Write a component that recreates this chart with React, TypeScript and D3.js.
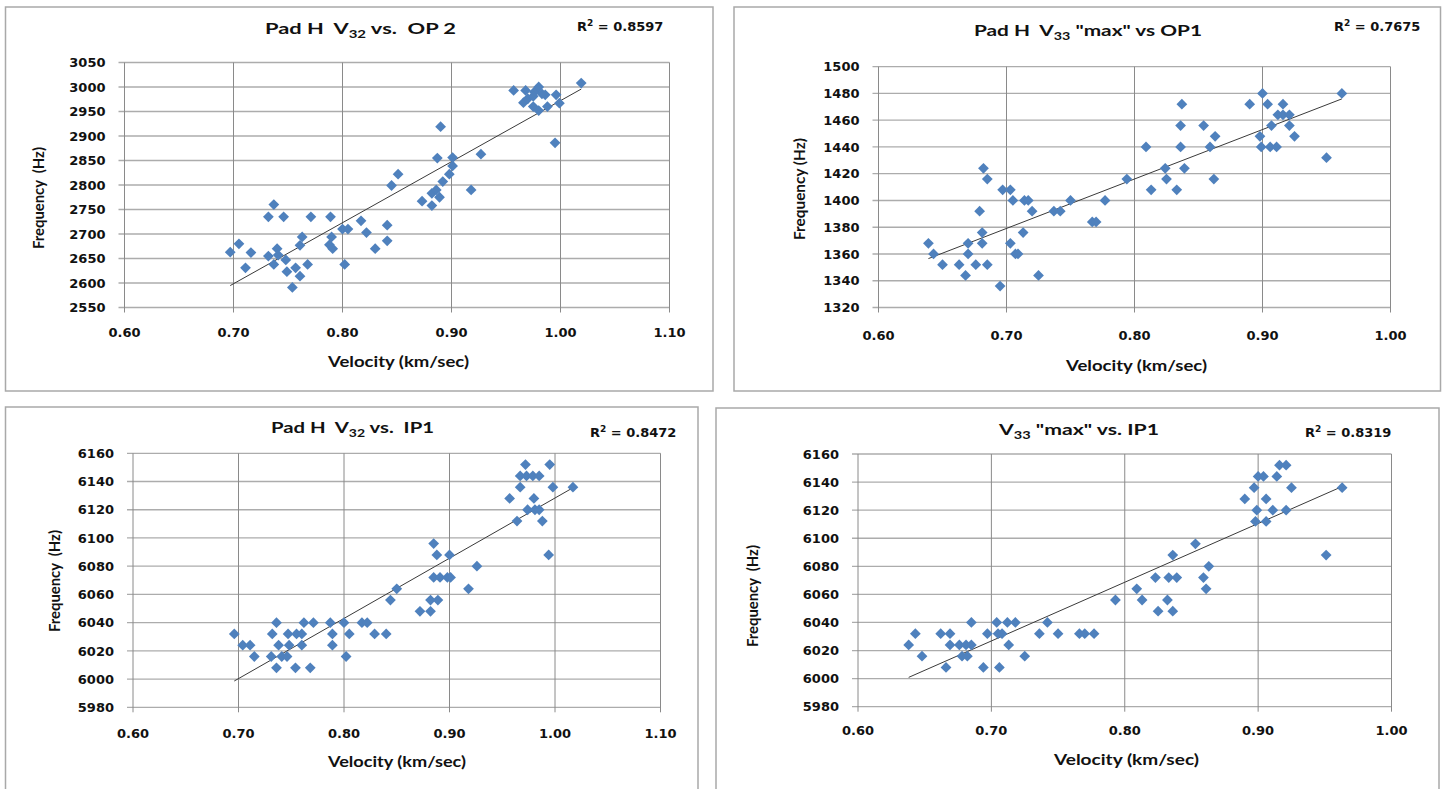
import * as d3 from "d3";

// Pad H V32 vs. OP 2
const op2Velocity = [
  0.697, 0.705, 0.711, 0.716, 0.732, 0.737, 0.732, 0.74, 0.737, 0.741, 0.746, 0.748, 0.749, 0.757, 0.754, 0.761,
  0.763, 0.761, 0.768, 0.771, 0.789, 0.79, 0.788, 0.791, 0.8, 0.805, 0.802, 0.817, 0.822, 0.83, 0.841, 0.841,
  0.845, 0.851, 0.873, 0.882, 0.882, 0.886, 0.887, 0.89, 0.889, 0.892, 0.898, 0.901, 0.901, 0.918, 0.927, 0.957,
  0.968, 0.976, 0.98, 0.966, 0.97, 0.975, 0.975, 0.98, 0.986, 0.983, 0.988, 0.996, 0.999, 0.995, 1.019,
];
const op2Frequency = [
  2663, 2680, 2631, 2662, 2735, 2760, 2655, 2670, 2638, 2657, 2735, 2647, 2623, 2631, 2591, 2614,
  2694, 2677, 2638, 2735, 2735, 2694, 2678, 2670, 2710, 2710, 2638, 2727, 2703, 2670, 2718, 2686,
  2799, 2822, 2767, 2758, 2783, 2790, 2855, 2919, 2775, 2807, 2822, 2839, 2856, 2790, 2863, 2993,
  2993, 2990, 3000, 2968, 2976, 2981, 2960, 2952, 2984, 2986, 2960, 2984, 2967, 2886, 3008,
];

// Pad H V33 "max" vs OP1
const op1Velocity = [
  0.639, 0.643, 0.65, 0.663, 0.668, 0.67, 0.67, 0.676, 0.679, 0.681, 0.681, 0.682, 0.685, 0.685, 0.695, 0.697,
  0.703, 0.703, 0.705, 0.707, 0.709, 0.713, 0.714, 0.717, 0.72, 0.725, 0.737, 0.742, 0.75, 0.767, 0.77, 0.777,
  0.794, 0.809, 0.813, 0.824, 0.825, 0.833, 0.836, 0.836, 0.837, 0.839, 0.854, 0.859, 0.862, 0.863, 0.89, 0.898,
  0.899, 0.9, 0.904, 0.906, 0.907, 0.911, 0.912, 0.916, 0.916, 0.921, 0.921, 0.925, 0.95, 0.962,
];
const op1Frequency = [
  1368, 1360, 1352, 1352, 1344, 1360, 1368, 1352, 1392, 1376, 1368, 1424, 1416, 1352, 1336, 1408,
  1408, 1368, 1400, 1360, 1360, 1376, 1400, 1400, 1392, 1344, 1392, 1392, 1400, 1384, 1384, 1400,
  1416, 1440, 1408, 1424, 1416, 1408, 1440, 1456, 1472, 1424, 1456, 1440, 1416, 1448, 1472, 1448,
  1440, 1480, 1472, 1440, 1456, 1440, 1464, 1472, 1464, 1464, 1456, 1448, 1432, 1480,
];

// Pad H V32 vs. IP1
const ip1V32Velocity = [
  0.696, 0.704, 0.711, 0.715, 0.732, 0.731, 0.736, 0.738, 0.736, 0.741, 0.746, 0.747, 0.748, 0.755, 0.754, 0.76,
  0.76, 0.762, 0.768, 0.771, 0.787, 0.789, 0.789, 0.8, 0.802, 0.805, 0.817, 0.822, 0.829, 0.84, 0.844, 0.85,
  0.872, 0.882, 0.882, 0.885, 0.885, 0.888, 0.889, 0.891, 0.898, 0.901, 0.9, 0.918, 0.926, 0.957, 0.964, 0.967,
  0.967, 0.972, 0.973, 0.974, 0.979, 0.98, 0.981, 0.985, 0.985, 0.988, 0.994, 0.995, 0.998, 1.017,
];
const ip1V32Frequency = [
  6032, 6024, 6024, 6016, 6032, 6016, 6040, 6024, 6008, 6016, 6016, 6032, 6024, 6032, 6008, 6032,
  6024, 6040, 6008, 6040, 6040, 6032, 6024, 6040, 6016, 6032, 6040, 6040, 6032, 6032, 6056, 6064,
  6048, 6048, 6056, 6096, 6072, 6088, 6056, 6072, 6072, 6072, 6088, 6064, 6080, 6128, 6112, 6136,
  6144, 6152, 6144, 6120, 6144, 6128, 6120, 6144, 6120, 6112, 6088, 6152, 6136, 6136,
];

// V33 "max" vs. IP1
const ip1V33Velocity = [
  0.638, 0.643, 0.648, 0.662, 0.666, 0.669, 0.669, 0.676, 0.678, 0.681, 0.682, 0.685, 0.685, 0.694, 0.697, 0.704,
  0.705, 0.706, 0.708, 0.712, 0.713, 0.718, 0.725, 0.736, 0.742, 0.75, 0.766, 0.77, 0.777, 0.793, 0.809, 0.813,
  0.823, 0.825, 0.832, 0.833, 0.836, 0.836, 0.839, 0.853, 0.859, 0.861, 0.863, 0.89, 0.897, 0.899, 0.898, 0.9,
  0.904, 0.906, 0.906, 0.911, 0.914, 0.916, 0.921, 0.921, 0.925, 0.951, 0.963,
];
const ip1V33Frequency = [
  6024, 6032, 6016, 6032, 6008, 6032, 6024, 6024, 6016, 6024, 6016, 6024, 6040, 6008, 6032, 6040,
  6032, 6008, 6032, 6040, 6024, 6040, 6016, 6032, 6040, 6032, 6032, 6032, 6032, 6056, 6064, 6056,
  6072, 6048, 6056, 6072, 6088, 6048, 6072, 6096, 6072, 6064, 6080, 6128, 6136, 6120, 6112, 6144,
  6144, 6128, 6112, 6120, 6144, 6152, 6152, 6120, 6136, 6088, 6136,
];

// tick labels
const xTicksWide = [0.6, 0.7, 0.8, 0.9, 1.0, 1.1];
const xTicksNarrow = [0.6, 0.7, 0.8, 0.9, 1.0];
const yTicksOp2 = [2550, 2600, 2650, 2700, 2750, 2800, 2850, 2900, 2950, 3000, 3050];
const yTicksOp1 = [1320, 1340, 1360, 1380, 1400, 1420, 1440, 1460, 1480, 1500];
const yTicksIp1 = [5980, 6000, 6020, 6040, 6060, 6080, 6100, 6120, 6140, 6160];

const rSquared = ["0.8597", "0.7675", "0.8472", "0.8319"];

const MARKER = "#4f81bd";
const TICK_FONT = "'DejaVu Sans', Verdana, sans-serif";
const TITLE_FONT = "Lato, 'Open Sans', sans-serif";

const diamond = d3.symbol(d3.symbolSquare, 58)();

function fit(xs, ys) {
  const mx = d3.mean(xs);
  const my = d3.mean(ys);
  const sxy = d3.sum(xs, (x, i) => (x - mx) * (ys[i] - my));
  const sxx = d3.sum(xs, (x) => (x - mx) * (x - mx));
  const slope = sxy / sxx;
  return (x) => my + slope * (x - mx);
}

function Panel({ cfg }) {
  const { box, plot, xTicks, yTicks, velocity, frequency, title, r2, text } = cfg;
  const x = d3.scaleLinear().domain(d3.extent(xTicks)).range([plot.left, plot.right]);
  const y = d3.scaleLinear().domain(d3.extent(yTicks)).range([plot.bottom, plot.top]);
  const f = fit(velocity, frequency);
  const [xmin, xmax] = d3.extent(velocity);
  const trend = d3.line()([
    [x(xmin), y(f(xmin))],
    [x(xmax), y(f(xmax))],
  ]);

  return (
    <g>
      <rect x={box.x0} y={box.y0} width={box.x1 - box.x0} height={box.y1 - box.y0} fill="#fff" stroke="#a9a9a9" strokeWidth={1.5} />
      {/* horizontal grid */}
      {yTicks.map((t) => (
        <line key={"h" + t} x1={plot.left - 6} x2={plot.right} y1={y(t)} y2={y(t)} stroke="#acacac" strokeWidth={1.3} />
      ))}
      {/* vertical grid */}
      {xTicks.map((t) => (
        <line key={"v" + t} x1={x(t)} x2={x(t)} y1={plot.top} y2={plot.bottom + 5} stroke="#8a8a8a" strokeWidth={1} />
      ))}
      {yTicks.map((t) => (
        <text key={"yl" + t} x={plot.left - 19} y={y(t)} dy="0.36em" textAnchor="end" fontFamily={TICK_FONT} fontWeight="bold" fontSize={13} fill="#111">
          {t}
        </text>
      ))}
      {xTicks.map((t) => (
        <text key={"xl" + t} x={x(t)} y={text.xTickY} textAnchor="middle" fontFamily={TICK_FONT} fontWeight="bold" fontSize={13} fill="#111">
          {t.toFixed(2)}
        </text>
      ))}
      <path d={trend} stroke="#3a3a3a" strokeWidth={1} fill="none" />
      {velocity.map((v, i) => (
        <path key={i} d={diamond} transform={`translate(${x(v)},${y(frequency[i])}) rotate(45)`} fill={MARKER} />
      ))}
      <text
        x={text.titleX}
        y={text.titleY}
        textLength={text.titleW}
        lengthAdjust="spacingAndGlyphs"
        fontFamily={TITLE_FONT}
        fontWeight="bold"
        fontSize={16}
        fill="#111"
        style={{ whiteSpace: "pre" }}
      >
        {title.map((p, i) =>
          p.sub ? (
            <tspan key={i} dy={4} fontSize={11}>{p.text}</tspan>
          ) : (
            <tspan key={i} dy={i > 0 && title[i - 1].sub ? -4 : 0}>{p.text}</tspan>
          )
        )}
      </text>
      <text x={text.r2X} y={text.r2Y} fontFamily={TICK_FONT} fontWeight="bold" fontSize={13} fill="#111" style={{ whiteSpace: "pre" }}>
        <tspan>R</tspan>
        <tspan dy={-5} fontSize={9}>2</tspan>
        <tspan dy={5}>{" = " + r2}</tspan>
      </text>
      <text
        x={text.xTitleX}
        y={text.xTitleY}
        textLength={text.xTitleW}
        lengthAdjust="spacingAndGlyphs"
        fontFamily={TITLE_FONT}
        fontWeight="bold"
        fontSize={15}
        fill="#111"
      >
        Velocity (km/sec)
      </text>
      <text
        transform={`translate(${text.yTitleX},${text.yTitleY}) rotate(-90)`}
        textLength={102}
        lengthAdjust="spacingAndGlyphs"
        dominantBaseline="central"
        fontFamily={TITLE_FONT}
        fontWeight="bold"
        fontSize={14.5}
        fill="#111"
        style={{ whiteSpace: "pre" }}
      >
        {text.yTitle}
      </text>
    </g>
  );
}

const panels = [
  {
    velocity: op2Velocity,
    frequency: op2Frequency,
    xTicks: xTicksWide,
    yTicks: yTicksOp2,
    r2: rSquared[0],
    title: [{ text: "Pad H  V" }, { text: "32", sub: true }, { text: " vs.  OP 2" }],
    box: { x0: 5.5, y0: 7, x1: 713, y1: 391 },
    plot: { left: 124.5, right: 669.5, top: 62.5, bottom: 307.5 },
    text: { titleX: 265, titleY: 34, titleW: 191, r2X: 577, r2Y: 31, xTickY: 337, xTitleX: 328, xTitleW: 141, xTitleY: 367, yTitleX: 38, yTitleY: 249, yTitle: "Frequency  (Hz)" },
  },
  {
    velocity: op1Velocity,
    frequency: op1Frequency,
    xTicks: xTicksNarrow,
    yTicks: yTicksOp1,
    r2: rSquared[1],
    title: [{ text: "Pad H  V" }, { text: "33", sub: true }, { text: ' "max" vs OP1' }],
    box: { x0: 734, y0: 7, x1: 1440.5, y1: 391 },
    plot: { left: 878.5, right: 1390.5, top: 66.7, bottom: 307.5 },
    text: { titleX: 974, titleY: 36, titleW: 228, r2X: 1334, r2Y: 31, xTickY: 340, xTitleX: 1066, xTitleW: 141, xTitleY: 371, yTitleX: 799, yTitleY: 240, yTitle: "Frequency (Hz)" },
  },
  {
    velocity: ip1V32Velocity,
    frequency: ip1V32Frequency,
    xTicks: xTicksWide,
    yTicks: yTicksIp1,
    r2: rSquared[2],
    title: [{ text: "Pad H  V" }, { text: "32", sub: true }, { text: " vs.  IP1" }],
    box: { x0: 5.5, y0: 407, x1: 698, y1: 795 },
    plot: { left: 133, right: 660.5, top: 453.3, bottom: 707.3 },
    text: { titleX: 271, titleY: 433, titleW: 163, r2X: 590, r2Y: 437, xTickY: 738, xTitleX: 328, xTitleW: 138, xTitleY: 767, yTitleX: 54, yTitleY: 632, yTitle: "Frequency  (Hz)" },
  },
  {
    velocity: ip1V33Velocity,
    frequency: ip1V33Frequency,
    xTicks: xTicksNarrow,
    yTicks: yTicksIp1,
    r2: rSquared[3],
    title: [{ text: "V" }, { text: "33", sub: true }, { text: ' "max" vs. IP1' }],
    box: { x0: 716, y0: 408, x1: 1439, y1: 795 },
    plot: { left: 858, right: 1391.5, top: 454, bottom: 706.7 },
    text: { titleX: 999, titleY: 435, titleW: 160, r2X: 1305, r2Y: 437, xTickY: 735, xTitleX: 1054, xTitleW: 145, xTitleY: 765, yTitleX: 752, yTitleY: 647, yTitle: "Frequency  (Hz)" },
  },
];

export default function App() {
  return (
    <svg width={1447} height={789} style={{ position: "absolute", left: 0, top: 0, background: "#fff" }}>
      {panels.map((p, i) => (
        <Panel key={i} cfg={p} />
      ))}
    </svg>
  );
}
